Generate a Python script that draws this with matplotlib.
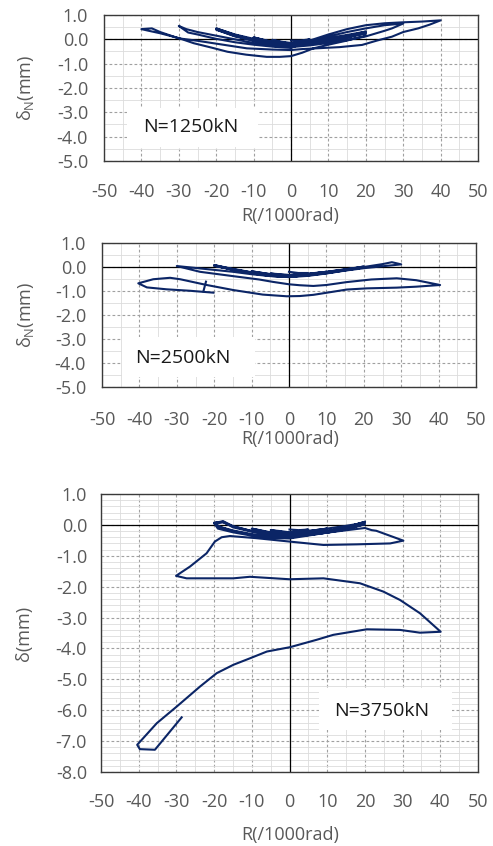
import matplotlib
matplotlib.use("Agg")
import matplotlib.pyplot as plt
from matplotlib.ticker import MultipleLocator, FuncFormatter
from matplotlib.patches import Rectangle

plt.rcParams['font.family'] = ['Open Sans', 'DejaVu Sans']
plt.rcParams['axes.unicode_minus'] = False
plt.rcParams['mathtext.fontset'] = 'custom'
plt.rcParams['mathtext.rm'] = 'Open Sans'

# ---------------- data: N = 1250 kN ----------------
R1 = [0, 2.5, 5, 2.5, 0, -2.5, -5, -2.5, 0,
      2.5, 5, 2.5, 0, -2.5, -5, -2.5, 0,
      5, 10, 5, 0, -5, -10, -5, 0,
      5, 10, 5, 0, -5, -10, -5, 0,
      5, 10, 15, 20, 15, 10, 5, 0, -5, -10, -15, -20, -15, -10, -5, 0,
      5, 10, 15, 20, 15, 10, 5, 0, -5, -10, -15, -20, -15, -10, -5, 0,
      5, 10, 15, 20, 15, 10, 5, 0, -5, -10, -15, -20, -15, -10, -5, 0,
      5, 10, 15, 20, 25, 30, 27, 25, 20, 15, 10, 5, 0, -5, -10, -15, -20, -25, -28, -30,
      -27.5, -25, -20, -15, -10, -5, 0,
      5, 10, 15, 20, 25, 30, 35, 40,
      37, 34, 30, 27, 23, 19, 13, 7, 3, 0, -5, -11.8, -16, -20.8, -25, -30, -35, -37.2, -40,
      -38, -35, -30, -26, -21, -17, -12, -6.5, -3, 0, 3, 6, 10, 15, 20]
D1 = [-0.05, -0.05, 0.0, -0.1, -0.15, -0.1, -0.02, -0.12, -0.18,
      -0.1, -0.03, -0.12, -0.2, -0.14, -0.05, -0.15, -0.2,
      -0.08, 0.1, -0.1, -0.22, -0.1, 0.08, -0.12, -0.24,
      -0.1, 0.08, -0.12, -0.24, -0.12, 0.06, -0.14, -0.25,
      -0.1, 0.05, 0.18, 0.32, 0.12, -0.03, -0.15, -0.25, -0.15, 0.02, 0.2, 0.45, 0.18, -0.02, -0.18, -0.26,
      -0.12, 0.02, 0.15, 0.28, 0.08, -0.06, -0.17, -0.27, -0.17, -0.01, 0.17, 0.42, 0.15, -0.04, -0.2, -0.28,
      -0.14, 0.0, 0.12, 0.25, 0.06, -0.08, -0.19, -0.29, -0.19, -0.03, 0.14, 0.4, 0.12, -0.06, -0.21, -0.3,
      -0.1, 0.12, 0.3, 0.45, 0.58, 0.65, 0.45, 0.35, 0.12, -0.03, -0.15, -0.25, -0.32, -0.27, -0.15, 0.0, 0.15, 0.3, 0.42, 0.55,
      0.28, 0.2, 0.02, -0.12, -0.22, -0.3, -0.35,
      -0.05, 0.2, 0.42, 0.58, 0.66, 0.7, 0.73, 0.78,
      0.6, 0.45, 0.3, 0.11, -0.05, -0.23, -0.32, -0.37, -0.4, -0.44, -0.42, -0.37, -0.27, -0.16, -0.06, 0.04, 0.3, 0.45, 0.42,
      0.35, 0.25, 0.05, -0.16, -0.35, -0.51, -0.63, -0.72, -0.72, -0.69, -0.55, -0.37, -0.22, -0.05, 0.15]

# ---------------- data: N = 2500 kN ----------------
R2 = [0, 2.5, 5, 2.5, 0, -2.5, -5, -2.5, 0,
      5, 10, 5, 0, -5, -10, -5, 0,
      5, 10, 15, 20, 15, 10, 5, 0, -5, -10, -15, -20, -15, -10, -5, 0,
      5, 10, 15, 20, 15, 10, 5, 0, -5, -10, -15, -20, -15, -10, -5, 0,
      5, 10, 15, 20, 15, 10, 5, 0, -5, -10, -15, -20, -15, -10, -5, 0,
      5, 10, 15, 20, 25, 27.5, 30, 25, 20, 15, 10, 5, 0, -5, -10, -15, -20, -25, -30,
      -23.8, -15, -8, -4.3, 0, 2.9, 6.5, 10, 15.4, 22, 28.8, 34, 40.4,
      34, 28.8, 20.8, 15.4, 11.8, 6.5, 2.9, -0.6, -7, -14.9, -22, -29.1, -31.8, -36.3, -40.3,
      -38, -32.7, -26.5, -20.2]
D2 = [-0.2, -0.25, -0.25, -0.3, -0.33, -0.3, -0.27, -0.32, -0.35,
      -0.28, -0.2, -0.3, -0.36, -0.3, -0.18, -0.3, -0.37,
      -0.3, -0.2, -0.1, 0.02, -0.12, -0.24, -0.33, -0.38, -0.33, -0.22, -0.08, 0.08, -0.1, -0.25, -0.35, -0.4,
      -0.31, -0.21, -0.1, 0.0, -0.13, -0.25, -0.34, -0.39, -0.34, -0.23, -0.09, 0.06, -0.11, -0.26, -0.36, -0.41,
      -0.32, -0.22, -0.11, -0.02, -0.14, -0.26, -0.35, -0.4, -0.35, -0.24, -0.1, 0.05, -0.12, -0.27, -0.37, -0.42,
      -0.33, -0.22, -0.12, 0.0, 0.12, 0.2, 0.11, 0.03, -0.05, -0.15, -0.27, -0.37, -0.42, -0.38, -0.3, -0.2, -0.12, -0.04, 0.04,
      -0.2, -0.38, -0.52, -0.62, -0.72, -0.76, -0.79, -0.75, -0.63, -0.52, -0.47, -0.55, -0.75,
      -0.82, -0.86, -0.89, -0.94, -1.03, -1.16, -1.21, -1.22, -1.15, -0.96, -0.75, -0.51, -0.45, -0.51, -0.68,
      -0.85, -0.93, -0.99, -1.07]
R2_mark = [-22.2, -22.9]
D2_mark = [-0.61, -1.02]

# ---------------- data: N = 3750 kN ----------------
R3 = [0, 2.5, 5, 2.5, 0, -2.5, -5, -2.5, 0,
      5, 10, 5, 0, -5, -10, -5, 0,
      5, 10, 15, 20, 15, 10, 5, 0, -5, -10, -15, -17.6, -20, -18, -15, -10, -5, 0,
      5, 10, 15, 20, 15, 10, 5, 0, -5, -10, -15, -17.6, -20, -19, -15, -10, -5, 0,
      5, 10, 15, 20, 15, 10, 5, 0, -5, -10, -15, -17.6, -20, -19, -15, -10, -5, 0,
      10, 20, 21.8, 23, 30.2,
      26.7, 17.8, 9, 0, -8.8, -15.8, -18, -19.8, -22, -26.4, -30.1,
      -27.3, -14.9, -10.5, 0, 9, 18.7, 24.9, 29.3, 34.6, 40.1,
      34.6, 29.3, 20.5, 11.6, 7.2, 0.1, -6, -10.5, -14.9, -19.3, -23.7, -29.9, -35.2, -40.4,
      -39.7, -35.7, -28.6]
D3 = [-0.15, -0.17, -0.15, -0.2, -0.24, -0.2, -0.17, -0.22, -0.26,
      -0.2, -0.12, -0.24, -0.3, -0.24, -0.12, -0.26, -0.32,
      -0.2, -0.12, -0.03, 0.07, -0.1, -0.2, -0.28, -0.33, -0.3, -0.2, -0.05, 0.08, 0.05, -0.08, -0.18, -0.3, -0.38, -0.4,
      -0.32, -0.25, -0.12, 0.02, -0.15, -0.25, -0.33, -0.38, -0.33, -0.22, -0.08, 0.1, 0.07, -0.05, -0.2, -0.32, -0.4, -0.42,
      -0.3, -0.2, -0.08, 0.1, -0.08, -0.22, -0.3, -0.36, -0.32, -0.2, -0.04, 0.12, 0.06, -0.12, -0.24, -0.35, -0.42, -0.44,
      -0.25, -0.1, -0.17, -0.19, -0.51,
      -0.6, -0.63, -0.65, -0.54, -0.43, -0.36, -0.4, -0.54, -0.92, -1.35, -1.65,
      -1.73, -1.73, -1.68, -1.76, -1.73, -1.89, -2.16, -2.43, -2.86, -3.46,
      -3.49, -3.4, -3.38, -3.56, -3.72, -3.96, -4.1, -4.32, -4.53, -4.8, -5.23, -5.88, -6.42, -7.12,
      -7.26, -7.28, -6.23]

X_TICKS = [-50, -40, -30, -20, -10, 0, 10, 20, 30, 40, 50]
LABELS = ["N=1250kN", "N=2500kN", "N=3750kN"]

LINE = '#0b2566'
LW = 1.5
W, H = 493, 846
fig = plt.figure(figsize=(W / 100, H / 100), dpi=100)


def ax_px(l, t, r, b):
    return fig.add_axes([l / W, 1 - b / H, (r - l) / W, (b - t) / H])


def fmt_y(v, p):
    if abs(v) < 1e-9:
        v = 0.0
    return f"{v:.1f}"


def fmt_x(v, p):
    return f"{int(round(v))}"


def setup(ax, ymin, ymax, yminor, ypad, xpad):
    ax.set_xlim(-50, 50)
    ax.set_ylim(ymin, ymax)
    ax.set_xticks(X_TICKS)
    ax.xaxis.set_minor_locator(MultipleLocator(5))
    ax.yaxis.set_major_locator(MultipleLocator(1))
    ax.yaxis.set_minor_locator(MultipleLocator(yminor))
    ax.yaxis.set_major_formatter(FuncFormatter(fmt_y))
    ax.xaxis.set_major_formatter(FuncFormatter(fmt_x))
    ax.grid(which='minor', color='#dcdcdc', lw=0.6, ls='-')
    ax.grid(which='major', color='#a0a0a0', lw=0.8, ls=(0, (2.5, 2)))
    ax.set_axisbelow(True)
    ax.axhline(0, color='black', lw=0.9, zorder=1.5)
    ax.axvline(0, color='black', lw=0.9, zorder=1.5)
    ax.tick_params(which='both', length=0, labelsize=13, labelcolor='#595959')
    ax.tick_params(axis='y', pad=ypad)
    ax.tick_params(axis='x', pad=xpad)
    for s in ax.spines.values():
        s.set_color('#3a3a3a')
        s.set_linewidth(1.0)


def label_box(ax, text, x0, y0, x1, y1, tx, ty):
    ax.add_patch(Rectangle((x0, y0), x1 - x0, y1 - y0, transform=ax.transAxes,
                           facecolor='white', edgecolor='none', zorder=1.6))
    ax.text(tx, ty, text, transform=ax.transAxes, fontsize=14, color='#1a1a1a',
            ha='center', va='center', zorder=3)


# panel 1
ax1 = ax_px(104, 15, 478, 161)
setup(ax1, -5, 1, 0.5, 11.5, 15.5)
label_box(ax1, LABELS[0], 0.0615, 0.096, 0.4118, 0.363, 0.232, 0.232)
ax1.plot(R1, D1, color=LINE, lw=LW, zorder=4)

# panel 2
ax2 = ax_px(102, 243, 476, 387)
setup(ax2, -5, 1, 0.5, 11.5, 17)
label_box(ax2, LABELS[1], 0.053, 0.069, 0.409, 0.347, 0.217, 0.2)
ax2.plot(R2, D2, color=LINE, lw=LW, zorder=4)
ax2.plot(R2_mark, D2_mark, color=LINE, lw=LW, zorder=4)

# panel 3
ax3 = ax_px(101, 494, 478, 772)
setup(ax3, -8, 1, 0.2, 10, 15)
label_box(ax3, LABELS[2], 0.578, 0.151, 0.931, 0.302, 0.745, 0.219)
ax3.plot(R3, D3, color=LINE, lw=LW, zorder=4)

# axis titles
def ftext(x, y, s, **kw):
    fig.text(x / W, 1 - y / H, s, fontsize=13, color='#595959', **kw)

ftext(290, 221, "R(/1000rad)", ha='center', va='baseline')
ftext(290, 444, "R(/1000rad)", ha='center', va='baseline')
ftext(290, 840, "R(/1000rad)", ha='center', va='baseline')
ftext(26, 88, r"δ$_{\mathregular{N}}$(mm)", rotation=90, ha='center', va='center')
ftext(26, 315, r"δ$_{\mathregular{N}}$(mm)", rotation=90, ha='center', va='center')
ftext(24, 633, "δ(mm)", rotation=90, ha='center', va='center')

fig.savefig("out.png", dpi=100)
